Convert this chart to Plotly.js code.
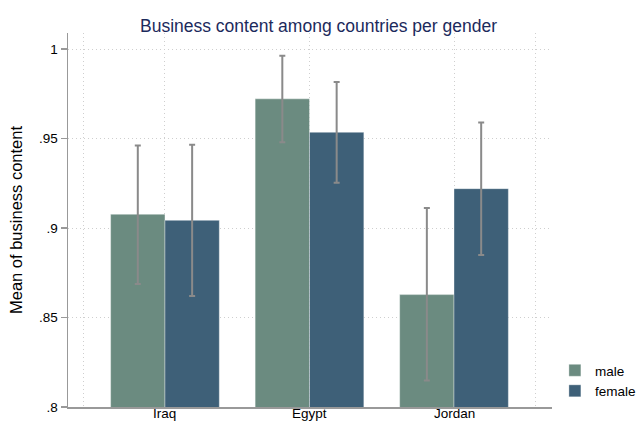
<!DOCTYPE html>
<html>
<head>
<meta charset="utf-8">
<script src="https://cdn.plot.ly/plotly-3.0.1.min.js"></script>
<style>html,body{margin:0;padding:0;background:#fff;}#chart{width:637px;height:421px;}</style>
</head>
<body>
<div id="chart"></div>
<script>
const countries = ["Iraq", "Egypt", "Jordan"];
const countryPos = [1, 2, 3];
const maleMean = [0.9077, 0.9722, 0.8628];
const maleUpper = [0.9462, 0.9963, 0.9112];
const maleLower = [0.8687, 0.9480, 0.8148];
const femaleMean = [0.9043, 0.9535, 0.9220];
const femaleUpper = [0.9465, 0.9816, 0.9590];
const femaleLower = [0.8620, 0.9253, 0.8850];
const yTicks = [0.8, 0.85, 0.9, 0.95, 1];
const yTickText = [".8", ".85", ".9", ".95", "1"];

const errUp = (m, u) => u.map((v, i) => v - m[i]);
const errDown = (m, l) => l.map((v, i) => m[i] - v);

const errStyle = {color: "#8a8a8a", thickness: 2, width: 3};

const traces = [
  {
    type: "bar", name: "male", x: countryPos, y: maleMean,
    marker: {color: "#6b8b80", line: {color: "rgba(255,255,255,0.6)", width: 0.6}},
    error_y: Object.assign({type: "data", symmetric: false, array: errUp(maleMean, maleUpper), arrayminus: errDown(maleMean, maleLower)}, errStyle),
    hoverinfo: "skip"
  },
  {
    type: "bar", name: "female", x: countryPos, y: femaleMean,
    marker: {color: "#3e6078", line: {color: "rgba(255,255,255,0.6)", width: 0.6}},
    error_y: Object.assign({type: "data", symmetric: false, array: errUp(femaleMean, femaleUpper), arrayminus: errDown(femaleMean, femaleLower)}, errStyle),
    hoverinfo: "skip"
  }
];

const labelAnnotations = countries.map((c, i) => ({
  text: c, x: countryPos[i], xref: "x", y: 0, yref: "paper",
  xanchor: "center", yanchor: "top", yshift: 2.5, showarrow: false, borderpad: 0,
  font: {size: 13.5, color: "#000"}
}));

const layout = {
  width: 637, height: 421,
  margin: {l: 68, r: 85, t: 33, b: 14, autoexpand: false},
  paper_bgcolor: "#ffffff", plot_bgcolor: "#ffffff",
  font: {family: "Liberation Sans, Arial, Helvetica, sans-serif", color: "#000", size: 13},
  title: {text: "Business content among countries per gender", x: 0.5, xref: "container", xanchor: "center", y: 0.952, yref: "container",
          font: {size: 17.5, color: "#1c2a5c"}},
  barmode: "group", bargap: 0.248, bargroupgap: 0,
  showlegend: true,
  legend: {x: 1.006, xanchor: "left", y: 0.0, yanchor: "bottom", font: {size: 13.5}, tracegroupgap: 0, bgcolor: "rgba(0,0,0,0)"},
  annotations: labelAnnotations,
  xaxis: {
    range: [0.329, 3.678],
    tickvals: [0.433, 1, 2, 3, 3.567],
    ticktext: ["", "", "", "", ""],
    showgrid: true, gridcolor: "#cfcfcf", griddash: "1px,3px", gridwidth: 1,
    showline: true, linecolor: "#999999", linewidth: 1.5,
    ticks: "", zeroline: false, showticklabels: false
  },
  yaxis: {
    range: [0.8, 1.009],
    tickvals: yTicks, ticktext: yTickText,
    showgrid: true, gridcolor: "#cfcfcf", griddash: "1px,3px", gridwidth: 1,
    showline: true, linecolor: "#999999", linewidth: 1.5,
    ticks: "outside", ticklen: 6, tickcolor: "#999999", tickwidth: 1.5,
    zeroline: false, tickfont: {size: 13.5},
    title: {text: "Mean of business content", font: {size: 16.5}, standoff: 12}
  }
};

Plotly.newPlot("chart", traces, layout, {displayModeBar: false, staticPlot: true});
</script>
</body>
</html>
